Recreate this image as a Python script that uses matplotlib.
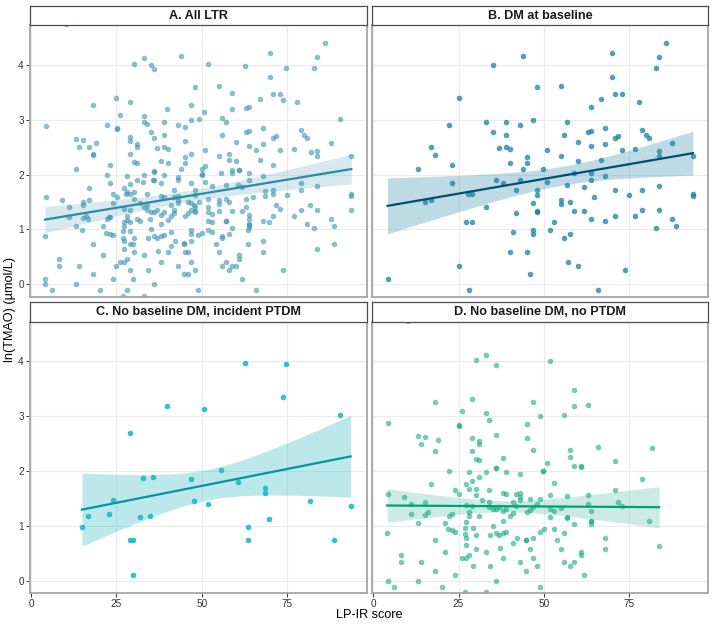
import numpy as np
import matplotlib
matplotlib.use("Agg")
import matplotlib.pyplot as plt

plt.rcParams["font.family"] = ["Liberation Sans", "DejaVu Sans"]

# ---- data (LP-IR score vs ln(TMAO)) ----
b_x = [85.9, 69.9, 83.7, 43.9, 35.0, 82.8, 69.9, 48.0, 54.9, 70.9, 72.8, 25.0, 66.9, 77.8, 63.9,
       22.1, 33.0, 38.9, 42.9, 46.9, 56.9, 35.0, 38.9, 55.9, 62.8, 63.9, 67.9, 78.9, 79.8, 80.8,
       70.9, 71.8, 59.9, 63.9, 67.9, 87.7, 17.0, 37.0, 38.9, 40.0, 50.9, 72.8, 76.8, 18.1, 45.0,
       55.0, 83.7, 83.7, 93.7, 40.0, 45.0, 59.9, 66.9, 13.1, 23.1, 43.9, 49.9, 36.0, 37.9, 42.9,
       50.9, 58.9, 63.9, 63.9, 67.9, 23.1, 41.9, 47.9, 56.9, 61.8, 70.9, 78.9, 83.7, 27.9, 29.0,
       47.9, 64.8, 74.9, 93.7, 93.7, 15.1, 17.0, 46.9, 55.0, 55.0, 57.8, 33.0, 41.9, 47.9, 47.9,
       58.9, 61.8, 78.9, 83.7, 63.9, 67.9, 70.9, 76.8, 27.1, 29.0, 52.9, 51.9, 46.9, 46.9, 41.0,
       57.8, 55.9, 82.8, 87.7, 88.7, 40.0, 45.0, 25.0, 57.0, 59.9, 46.0, 73.8, 4.2, 28.0, 65.8]
b_y = [4.39, 4.22, 4.15, 4.16, 4.00, 3.94, 3.78, 3.60, 3.61, 3.47, 3.47, 3.40, 3.38, 3.33, 3.24,
       2.90, 2.95, 2.95, 2.90, 2.99, 2.95, 2.78, 2.72, 2.72, 2.78, 2.80, 2.84, 2.82, 2.73, 2.67,
       2.66, 2.70, 2.59, 2.52, 2.55, 2.57, 2.50, 2.49, 2.50, 2.47, 2.44, 2.45, 2.47, 2.35, 2.32,
       2.33, 2.43, 2.34, 2.34, 2.21, 2.21, 2.25, 2.26, 2.10, 2.18, 2.10, 2.10, 1.90, 1.85, 1.91,
       1.87, 2.02, 2.02, 1.91, 1.98, 1.85, 1.71, 1.72, 1.81, 1.77, 1.72, 1.72, 1.79, 1.64, 1.64,
       1.63, 1.60, 1.62, 1.65, 1.61, 1.50, 1.54, 1.48, 1.53, 1.46, 1.50, 1.41, 1.30, 1.33, 1.31,
       1.33, 1.33, 1.36, 1.36, 1.19, 1.16, 1.25, 1.25, 1.13, 1.13, 1.13, 0.99, 0.99, 0.91, 0.95,
       0.91, 0.84, 1.03, 1.19, 1.07, 0.59, 0.59, 0.34, 0.41, 0.34, 0.18, 0.27, 0.10, -0.10, -0.10]

c_x = [62.7, 74.5, 73.6, 39.8, 50.7, 90.5, 28.9, 14.9, 16.8, 22.8, 23.9, 28.9, 29.9, 29.9, 31.8, 34.8,
       32.8, 35.8, 46.7, 47.7, 51.7, 55.7, 60.6, 63.6, 63.6, 68.5, 68.5, 69.6, 81.5, 88.5, 93.5]
c_y = [3.98, 3.95, 3.36, 3.19, 3.14, 3.02, 2.69, 0.99, 1.19, 1.22, 1.48, 0.74, 0.74, 0.10, 1.16, 1.19,
       1.87, 1.90, 1.85, 1.45, 1.41, 2.02, 1.81, 0.99, 0.74, 1.70, 1.61, 1.13, 1.45, 0.74, 1.36]

d_x = [10.1, 33.0, 30.1, 35.9, 51.9, 58.9,
       29.0, 18.1, 46.9, 58.9, 62.9, 4.3, 26.1, 33.0, 34.0, 49.0, 55.9, 25.1, 25.1, 45.0,
       13.1, 15.1, 14.1, 19.1, 18.1, 29.0, 31.1, 31.1, 36.0, 45.0, 46.9, 29.0, 30.0, 31.1,
       37.9, 57.8, 57.8, 65.8, 81.8, 70.9, 50.9, 58.9, 60.9, 60.9, 36.0, 36.0, 22.1, 28.0,
       33.0, 38.9, 42.9, 49.9, 49.9, 31.1, 29.0, 52.9, 17.0, 27.1, 28.0, 78.9, 23.9, 25.1,
       30.0, 34.0, 37.9, 38.9, 41.9, 42.9, 30.0, 42.9, 70.9, 4.3, 9.1, 11.1, 15.1, 11.1,
       15.1, 16.1, 22.1, 23.1, 27.1, 29.0, 32.0, 34.0, 34.0, 35.0, 36.0, 37.0, 37.9, 38.9,
       41.0, 41.9, 42.9, 45.0, 45.9, 45.9, 46.9, 47.9, 49.0, 51.9, 51.9, 52.9, 54.9, 56.9,
       56.9, 56.9, 62.9, 62.9, 63.9, 71.8, 72.8, 80.7, 28.0, 28.0, 31.1, 27.1, 37.9, 40.0,
       41.0, 51.9, 63.8, 63.8, 63.8, 13.1, 21.1,
       4.1, 8.2, 8.2, 4.2, 6.1, 13.1, 14.1, 18.1, 18.1, 21.0, 20.1, 22.0, 23.1, 24.0, 24.1,
       27.0, 27.0, 27.1, 27.1, 27.1, 26.1, 28.0, 29.1, 29.1, 30.1, 30.1, 27.0, 33.0, 33.0,
       34.1, 34.1, 35.0, 36.0, 36.0, 37.0, 38.0, 37.1, 38.0, 39.0, 41.0, 42.0, 43.0, 44.9,
       44.9, 44.9, 45.9, 46.9, 46.9, 48.0, 48.9, 48.9, 50.0, 53.0, 54.0, 54.9, 55.9, 55.9,
       57.8, 58.8, 58.9, 60.8, 60.8, 61.8, 67.9, 67.9, 83.8]
d_y = [4.74, 4.12, 4.02, 3.93, 4.01, 3.48,
       3.32, 3.27, 3.27, 3.19, 3.21, 2.88, 3.09, 3.06, 2.93, 3.01, 3.03, 2.84, 2.83, 2.86,
       2.64, 2.63, 2.50, 2.57, 2.37, 2.61, 2.55, 2.50, 2.66, 2.61, 2.38, 2.37, 2.23, 2.21,
       2.24, 2.38, 2.26, 2.45, 2.42, 2.18, 2.15, 2.09, 2.09, 2.08, 2.06, 2.05, 2.00, 1.98,
       1.99, 1.99, 1.95, 2.01, 2.00, 1.90, 1.82, 1.79, 1.76, 1.76, 1.68, 1.85, 1.65, 1.59,
       1.68, 1.65, 1.61, 1.59, 1.59, 1.61, 1.56, 1.53, 1.65, 1.59, 1.53, 1.41, 1.44, 1.22,
       1.21, 1.25, 1.19, 1.22, 1.38, 1.36, 1.48, 1.44, 1.35, 1.31, 1.31, 1.35, 1.27, 1.31,
       1.44, 1.36, 1.48, 1.25, 1.50, 1.30, 1.35, 1.41, 1.50, 1.56, 1.32, 1.28, 1.33, 1.55,
       1.16, 1.15, 1.56, 1.41, 1.27, 1.44, 1.37, 1.10, 1.25, 1.18, 1.19, 1.07, 1.10, 1.18,
       1.24, 1.16, 1.10, 1.09, 1.04, 1.06, 1.06,
       0.88, 0.47, 0.34, 0.00, -0.11, 0.00, 0.34, 0.74, 0.18, 0.53, -0.11, 0.94, 0.92, 0.90, 0.10,
       0.97, 0.85, 0.79, 0.65, 0.41, 0.41, 0.47, 0.97, 0.27, 0.84, 0.59, -0.21, 0.53, -0.21,
       0.84, 0.27, 1.00, 0.88, 0.00, 0.84, 0.88, 0.60, 0.41, 0.90, 0.69, 0.79, 0.34, 0.75,
       0.74, 0.18, 0.59, 0.79, 0.41, 0.27, 0.90, -0.11, 0.94, 0.95, 0.74, 0.59, 0.34, 0.88,
       0.27, 0.34, 1.03, 0.53, 0.47, 0.10, 0.79, 0.59, 0.64]

# panel A = everyone
a_x = b_x + c_x + d_x
a_y = b_y + c_y + d_y

# lm fits as drawn in the reference (the fits include points outside the y window,
# so they are read off the picture rather than refitted)
fit_left = [1.18, 1.43, 1.30, 1.375]    # fitted ln(TMAO) at lowest score
fit_right = [2.10, 2.39, 2.27, 1.345]   # fitted ln(TMAO) at highest score
ci_left = [0.24, 0.51, 0.665, 0.305]    # 95% CI half-width at lowest score
ci_min = [0.10, 0.17, 0.28, 0.10]       # narrowest half-width
ci_right = [0.27, 0.40, 0.745, 0.375]   # half-width at highest score

titles = ["A. All LTR", "B. DM at baseline",
          "C. No baseline DM, incident PTDM", "D. No baseline DM, no PTDM"]
x_ticks = [0, 25, 50, 75]
y_ticks = [0, 1, 2, 3, 4]

# point colour, point alpha, line colour, band colour, band alpha
styles = [
    ("#3a93ae", 0.6, "#2a8aa8", "#3a93ae", 0.2),
    ("#16809f", 0.75, "#004f6f", "#2a86a6", 0.3),
    ("#19bcc8", 0.9, "#00979f", "#23b5c0", 0.3),
    ("#1aaa80", 0.6, "#00a077", "#1aaa80", 0.22),
]


def ci_band(x0, x1, y0, y1, w0, wm, w1, n_grid=100):
    # straight fit line with the usual hyperbolic confidence band of an lm
    grid = np.linspace(x0, x1, n_grid)
    fit = y0 + (y1 - y0) * (grid - x0) / (x1 - x0)
    p, q = w0 ** 2 - wm ** 2, w1 ** 2 - wm ** 2
    r = np.sqrt(p / q)
    xc = (x0 + r * x1) / (1 + r)
    k = p / (xc - x0) ** 2
    half = np.sqrt(wm ** 2 + k * (grid - xc) ** 2)
    return grid, fit, fit - half, fit + half


W, H = 714, 627
fig = plt.figure(figsize=(W / 100, H / 100), dpi=100)

# panel boxes in pixels: left, right, top, bottom
lefts = [(29.5, 366.7), (371.7, 708.3)]
rows = [(25.0, 296.7), (321.7, 593.3)]
strip_h = 19.4

data = [(a_x, a_y), (b_x, b_y), (c_x, c_y), (d_x, d_y)]

for k, (xs, ys) in enumerate(data):
    r, c = divmod(k, 2)
    x0, x1 = lefts[c]
    y0, y1 = rows[r]
    ax = fig.add_axes([x0 / W, 1 - y1 / H, (x1 - x0) / W, (y1 - y0) / H])
    pc, pa, lc, bc, ba = styles[k]

    ax.scatter(xs, ys, s=16, color=pc, alpha=pa, linewidths=0, zorder=2)
    g, f, lo, hi = ci_band(min(xs), max(xs), fit_left[k], fit_right[k],
                           ci_left[k], ci_min[k], ci_right[k])
    ax.fill_between(g, lo, hi, color=bc, alpha=ba, linewidth=0, zorder=3)
    ax.plot(g, f, color=lc, lw=1.6, zorder=4)

    ax.set_xlim(-0.44, 98.2)
    ax.set_ylim(-0.225, 4.725)
    ax.set_xticks(x_ticks)
    ax.set_yticks(y_ticks)
    ax.grid(True, color="#ebebeb", lw=0.8, zorder=0)
    ax.set_axisbelow(True)
    for sp in ax.spines.values():
        sp.set_color("#a6a6a6")
        sp.set_linewidth(1.3)
    ax.tick_params(length=2.6, width=0.7, color="#333333", labelsize=7.2,
                   labelcolor="#333333", pad=1.5)
    if r == 0:
        ax.tick_params(axis="x", bottom=False, labelbottom=False)
    if c == 1:
        ax.tick_params(axis="y", left=False, labelleft=False)

    # facet strip
    sax = fig.add_axes([x0 / W, 1 - y0 / H, (x1 - x0) / W, strip_h / H])
    sax.set_xticks([])
    sax.set_yticks([])
    sax.set_facecolor("white")
    for sp in sax.spines.values():
        sp.set_color("#4d4d4d")
        sp.set_linewidth(0.9)
    sax.text(0.5, 0.48, titles[k], ha="center", va="center", fontsize=9.1,
             fontweight="bold", color="#1a1a1a", transform=sax.transAxes)

fig.text(369 / W, 1 - 615 / H, "LP-IR score", ha="center", va="center", fontsize=9.1)
fig.text(10.5 / W, 1 - 309 / H, "ln(TMAO) (µmol/L)", ha="center", va="center",
         rotation=90, fontsize=9.1)

fig.savefig("out.png", dpi=100)
